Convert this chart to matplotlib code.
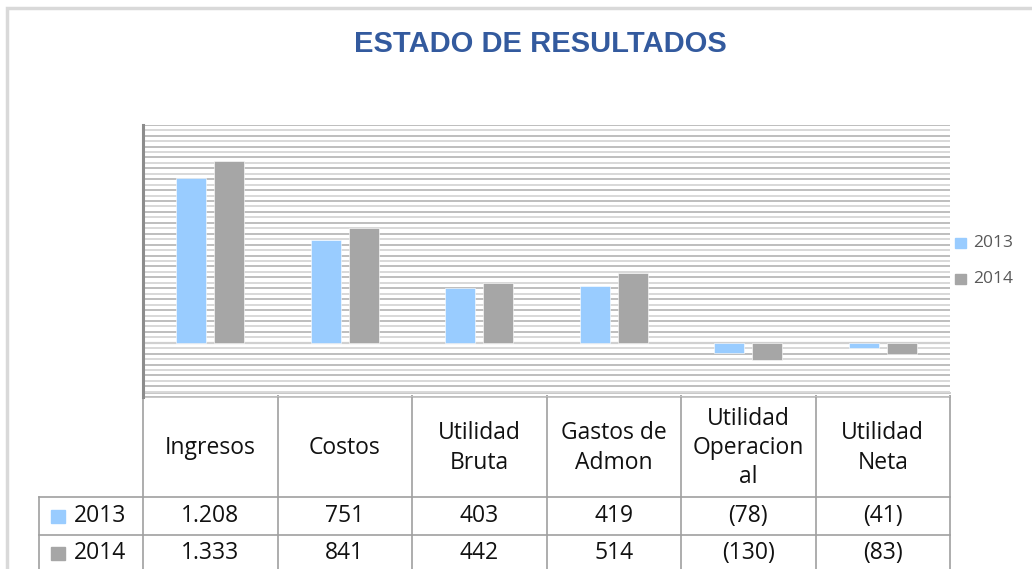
import matplotlib
matplotlib.use("Agg")
import matplotlib.pyplot as plt
import numpy as np

# ---- data ----
categories = ["Ingresos", "Costos", "Utilidad\nBruta", "Gastos de\nAdmon",
              "Utilidad\nOperacion\nal", "Utilidad\nNeta"]
series_names = ["2013", "2014"]
values_2013 = [1208, 751, 403, 419, -78, -41]
values_2014 = [1333, 841, 442, 514, -130, -83]
labels_2013 = ["1.208", "751", "403", "419", "(78)", "(41)"]
labels_2014 = ["1.333", "841", "442", "514", "(130)", "(83)"]
title = "ESTADO DE RESULTADOS"

col_2013 = "#99CCFF"
col_2014 = "#A6A6A6"

W, H = 1032, 569
fig = plt.figure(figsize=(W / 100, H / 100), dpi=100)
fig.patch.set_facecolor("white")

# pixel geometry of plot area
L, R, T, B = 143, 950, 124.7, 397.3
ax = fig.add_axes([L / W, 1 - B / H, (R - L) / W, (B - T) / H])
ax.set_xlim(0, 6)
ax.set_ylim(-400, 1600)

# gridlines
for k, yv in enumerate(np.arange(-400, 1601, 40)):
    c = "#BEBEBE" if k % 2 == 0 else "#D8D8D8"
    ax.axhline(yv, color=c, lw=1.4, zorder=0)
ax.axhline(0, color="#D0D0D0", lw=1.6, zorder=0)

x = np.arange(len(categories)) + 0.5
bw = 0.224
ax.bar(x - 0.142, values_2013, bw, color=col_2013, zorder=2, edgecolor="white", linewidth=0.4)
ax.bar(x + 0.142, values_2014, bw, color=col_2014, zorder=2, edgecolor="white", linewidth=0.4)

for s in ["top", "right", "bottom"]:
    ax.spines[s].set_visible(False)
ax.spines["left"].set_color("#8C8C8C")
ax.spines["left"].set_linewidth(2.2)
ax.set_xticks([])
ax.set_yticks([])
ax.patch.set_alpha(0)

# overlay in pixel coordinates
ov = fig.add_axes([0, 0, 1, 1], zorder=-1)
ov.set_xlim(0, W)
ov.set_ylim(H, 0)
ov.axis("off")

# outer frame
ov.plot([7, 7, W + 5], [H + 5, 7.5, 7.5], color="#D9D9D9", lw=2.5, solid_joinstyle="miter")

# title
ov.text(540, 44, title, ha="center", va="center", fontsize=21, fontweight="bold",
        color="#335A9E", family="Liberation Sans")

tfont = "Open Sans"
fs = 16.5
colw = (R - L) / len(categories)
line_c = "#A0A0A0"
# table lines
y_head_top, y_head_bot, y_r1, y_r2 = 397, 497, 535, 575
ov.plot([L, R], [392.5, 392.5], color="#BDBDBD", lw=1.2)
ov.plot([L, R], [y_head_top, y_head_top], color="#BDBDBD", lw=1.2)
for i in range(len(categories) + 1):
    xx = L + i * colw
    ov.plot([xx, xx], [y_head_top if i else T, y_r2], color=line_c, lw=1.2)
ov.plot([39, R], [y_head_bot, y_head_bot], color=line_c, lw=1.2)
ov.plot([39, R], [y_r1, y_r1], color=line_c, lw=1.2)
ov.plot([39, 39], [y_head_bot, y_r2], color=line_c, lw=1.2)
for i in range(len(categories) + 1):
    xx = L + i * colw
    ov.plot([xx, xx], [B - 1, y_head_top], color="#A8A8A8", lw=1.4)

for i, cat in enumerate(categories):
    cx = L + (i + 0.5) * colw
    ov.text(cx, 448, cat, ha="center", va="center", fontsize=fs, family=tfont,
            color="#111111", linespacing=1.3)
    ov.text(cx, 516, labels_2013[i], ha="center", va="center", fontsize=fs,
            family=tfont, color="#111111")
    ov.text(cx, 553, labels_2014[i], ha="center", va="center", fontsize=fs,
            family=tfont, color="#111111")

# row labels
for yc, name, col in [(516, series_names[0], col_2013), (553, series_names[1], col_2014)]:
    ov.add_patch(plt.Rectangle((51, yc - 6), 14, 13, color=col))
    ov.text(74, yc, name, ha="left", va="center", fontsize=fs, family=tfont, color="#111111")

# legend
for yc, name, col in [(243, series_names[0], col_2013), (279, series_names[1], col_2014)]:
    ov.add_patch(plt.Rectangle((955, yc - 5), 11, 10, color=col))
    ov.text(973, yc, name, ha="left", va="center", fontsize=12.5, family=tfont, color="#595959")

fig.savefig("out.png", dpi=100)
